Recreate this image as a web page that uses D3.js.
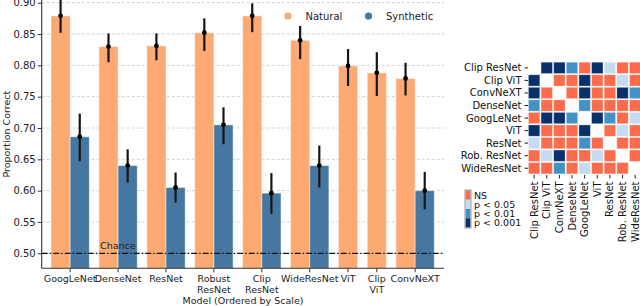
<!DOCTYPE html>
<html>
<head>
<meta charset="utf-8">
<script src="https://cdn.jsdelivr.net/npm/d3@7"></script>
<style>
  body { margin: 0; background: #fff; }
  svg { font-family: "DejaVu Sans", sans-serif; display: block; }
</style>
</head>
<body>
<svg id="chart" width="640" height="306"></svg>
<script>
// bar chart data
var models = ['GoogLeNet', 'DenseNet', 'ResNet', 'Robust\nResNet', 'Clip\nResNet', 'WideResNet', 'ViT', 'Clip\nViT', 'ConvNeXT'];
var natural = [0.879, 0.830, 0.831, 0.852, 0.879, 0.840, 0.799, 0.788, 0.779];
var naturalLo = [0.852, 0.805, 0.808, 0.823, 0.853, 0.810, 0.767, 0.751, 0.752];
var naturalHi = [0.906, 0.851, 0.851, 0.875, 0.899, 0.863, 0.826, 0.821, 0.804];
var synthetic = [0.686, 0.640, 0.605, 0.705, 0.596, 0.640, null, null, 0.600];
var syntheticLo = [0.647, 0.613, 0.581, 0.674, 0.563, 0.605, null, null, 0.570];
var syntheticHi = [0.723, 0.666, 0.629, 0.733, 0.628, 0.672, null, null, 0.630];
var yTicks = [0.50, 0.55, 0.60, 0.65, 0.70, 0.75, 0.80, 0.85, 0.90];
var chance = 0.5;

// significance matrix (0 = NS, 1 = p<0.05, 2 = p<0.01, 3 = p<0.001, -1 = diagonal)
var hmModels = ['Clip ResNet', 'Clip ViT', 'ConvNeXT', 'DenseNet', 'GoogLeNet', 'ViT', 'ResNet', 'Rob. ResNet', 'WideResNet'];
var pMatrix = [
  [-1, 3, 3, 2, 0, 3, 1, 0, 0],
  [3, -1, 0, 0, 3, 0, 0, 1, 0],
  [3, 0, -1, 0, 3, 0, 0, 3, 2],
  [2, 0, 0, -1, 2, 0, 0, 0, 0],
  [0, 3, 3, 2, -1, 3, 2, 0, 1],
  [3, 0, 0, 0, 3, -1, 0, 1, 0],
  [1, 0, 0, 0, 2, 0, -1, 0, 0],
  [0, 1, 3, 0, 0, 1, 0, -1, 0],
  [0, 0, 2, 0, 1, 0, 0, 0, -1]
];
var pLevels = ['NS', 'p < 0.05', 'p < 0.01', 'p < 0.001'];

var natColor = '#fdaa72', synColor = '#4677a0';
var pColors = ['#fc6b4b', '#c6dbef', '#4292c6', '#08306b'];

var svg = d3.select('#chart');

// ---------- bar chart ----------
var axLeft = 41.7, axRight = 444, axBottom = 268.3;
var yMin = 0.476;
var y = d3.scaleLinear().domain([0.5, 0.9]).range([253.3, 2.7]);

// lay bars out in "units": one bar = 1, gap between groups = 0.5
var gapU = 0.5;
var groups = [];
var pos = 0;
models.forEach(function(m, i) {
  var bars = [{series: 'Natural', v: natural[i], lo: naturalLo[i], hi: naturalHi[i], color: natColor}];
  if (synthetic[i] != null) {
    bars.push({series: 'Synthetic', v: synthetic[i], lo: syntheticLo[i], hi: syntheticHi[i], color: synColor});
  }
  bars.forEach(function(b, j) { b.start = pos + j; });
  groups.push({name: m, start: pos, n: bars.length, bars: bars});
  pos += bars.length + gapU;
});
var totalU = pos - gapU;
var x = d3.scaleLinear().domain([0, totalU]).range([51, 434.3]);

var allBars = [];
groups.forEach(function(g) { allBars = allBars.concat(g.bars); });

// grid
svg.append('g').selectAll('line').data(yTicks).enter().append('line')
  .attr('x1', axLeft).attr('x2', axRight)
  .attr('y1', function(d) { return y(d); }).attr('y2', function(d) { return y(d); })
  .attr('stroke', '#c4c4c4').attr('stroke-width', 0.8).attr('stroke-dasharray', '3,2');

// bars
svg.append('g').selectAll('rect').data(allBars).enter().append('rect')
  .attr('x', function(d) { return x(d.start); })
  .attr('width', function(d) { return x(d.start + 1) - x(d.start); })
  .attr('y', function(d) { return y(d.v); })
  .attr('height', function(d) { return y(yMin) - y(d.v); })
  .attr('fill', function(d) { return d.color; })
  .attr('stroke', '#fff').attr('stroke-opacity', 0.45).attr('stroke-width', 1);

// chance line
svg.append('line')
  .attr('x1', axLeft).attr('x2', axRight)
  .attr('y1', y(chance)).attr('y2', y(chance))
  .attr('stroke', '#111').attr('stroke-width', 1.2).attr('stroke-dasharray', '6,2,1.5,2');
svg.append('text').attr('x', 100).attr('y', y(chance) - 4)
  .attr('font-size', 9.5).attr('fill', '#222').text('Chance');

// error bars
var eb = svg.append('g').selectAll('g').data(allBars).enter().append('g');
eb.append('line')
  .attr('x1', function(d) { return x(d.start + 0.5); }).attr('x2', function(d) { return x(d.start + 0.5); })
  .attr('y1', function(d) { return y(d.lo); }).attr('y2', function(d) { return y(d.hi); })
  .attr('stroke', '#151515').attr('stroke-width', 2.2);
eb.append('circle')
  .attr('cx', function(d) { return x(d.start + 0.5); }).attr('cy', function(d) { return y(d.v); })
  .attr('r', 2.4).attr('fill', '#000');

// y axis
var yAxis = d3.axisLeft(y).tickValues(yTicks).tickFormat(d3.format('.2f')).tickSize(4).tickPadding(2);
var yg = svg.append('g').attr('transform', 'translate(' + axLeft + ',0)').call(yAxis);
yg.select('.domain').remove();
yg.selectAll('text').attr('font-size', 10).attr('fill', '#222').attr('font-family', 'DejaVu Sans');
yg.selectAll('line').attr('stroke', '#333');
svg.append('line').attr('x1', axLeft).attr('x2', axLeft).attr('y1', 0).attr('y2', axBottom)
  .attr('stroke', '#333').attr('stroke-width', 1.1);
svg.append('line').attr('x1', axLeft).attr('x2', axRight).attr('y1', axBottom).attr('y2', axBottom)
  .attr('stroke', '#333').attr('stroke-width', 1.1);

svg.append('text').attr('transform', 'translate(10,' + (axBottom / 2) + ') rotate(-90)')
  .attr('text-anchor', 'middle').attr('font-size', 9.5).attr('fill', '#222').text('Proportion Correct');

// x ticks
var xt = svg.append('g').selectAll('g').data(groups).enter().append('g')
  .attr('transform', function(g) { return 'translate(' + x(g.start + g.n / 2) + ',' + axBottom + ')'; });
xt.append('line').attr('y1', 0).attr('y2', 4).attr('stroke', '#333');
xt.append('text').attr('text-anchor', 'middle').attr('font-size', 9.5).attr('fill', '#222')
  .selectAll('tspan').data(function(g) { return g.name.split('\n'); }).enter().append('tspan')
  .attr('x', 0).attr('y', function(d, i) { return 14 + i * 10.5; }).text(function(d) { return d; });

svg.append('text').attr('x', 243).attr('y', 303.5).attr('text-anchor', 'middle')
  .attr('font-size', 9.5).attr('fill', '#222').text('Model (Ordered by Scale)');

// legend
var legend = [{name: 'Natural', color: natColor, cx: 288}, {name: 'Synthetic', color: synColor, cx: 368.5}];
var lg = svg.append('g').selectAll('g').data(legend).enter().append('g');
lg.append('circle').attr('cx', function(d) { return d.cx; }).attr('cy', 16).attr('r', 3.6)
  .attr('fill', function(d) { return d.color; });
lg.append('text').attr('x', function(d) { return d.cx + 17.5; }).attr('y', 19.6)
  .attr('font-size', 10).attr('fill', '#222').text(function(d) { return d.name; });

// ---------- heatmap ----------
var hx = d3.scaleBand().domain(hmModels).range([527.8, 641.5]).paddingInner(0.1).paddingOuter(0.05);
var hy = d3.scaleBand().domain(hmModels).range([61.6, 174.5]).paddingInner(0.1).paddingOuter(0.05);
var cells = [];
pMatrix.forEach(function(row, i) {
  row.forEach(function(v, j) { if (v >= 0) cells.push({r: hmModels[i], c: hmModels[j], v: v}); });
});
svg.append('g').selectAll('rect').data(cells).enter().append('rect')
  .attr('x', function(d) { return hx(d.c); }).attr('y', function(d) { return hy(d.r); })
  .attr('width', hx.bandwidth()).attr('height', hy.bandwidth())
  .attr('fill', function(d) { return pColors[d.v]; })
  .attr('stroke', '#fff').attr('stroke-opacity', 0.35).attr('stroke-width', 0.8);

var ry = svg.append('g').selectAll('g').data(hmModels).enter().append('g')
  .attr('transform', function(d) { return 'translate(524.5,' + (hy(d) + hy.bandwidth() / 2) + ')'; });
ry.append('line').attr('x1', 0).attr('x2', 3.5).attr('stroke', '#222');
ry.append('text').attr('x', -3).attr('dy', '0.35em').attr('text-anchor', 'end')
  .attr('font-size', 10).attr('fill', '#111').text(function(d) { return d; });

var cx = svg.append('g').selectAll('g').data(hmModels).enter().append('g')
  .attr('transform', function(d) { return 'translate(' + (hx(d) + hx.bandwidth() / 2) + ',175)'; });
cx.append('line').attr('y1', 0).attr('y2', 3.5).attr('stroke', '#222');
cx.append('text').attr('transform', 'translate(0,6.5) rotate(-90)').attr('dy', '0.35em')
  .attr('text-anchor', 'end').attr('font-size', 10).attr('fill', '#111').text(function(d) { return d; });

// heatmap legend
var ly = d3.scaleBand().domain(pLevels).range([190.5, 227.5]);
svg.append('g').selectAll('rect').data(pLevels).enter().append('rect')
  .attr('x', 465.5).attr('y', function(d) { return ly(d); })
  .attr('width', 5).attr('height', ly.bandwidth())
  .attr('fill', function(d, i) { return pColors[i]; });
svg.append('rect').attr('x', 465).attr('y', 190).attr('width', 6).attr('height', 38)
  .attr('fill', 'none').attr('stroke', '#999').attr('stroke-width', 1);
svg.append('g').selectAll('text').data(pLevels).enter().append('text')
  .attr('x', 474).attr('y', function(d) { return ly(d) + ly.bandwidth() / 2; }).attr('dy', '0.36em')
  .attr('font-size', 9.5).attr('fill', '#111').text(function(d) { return d; });
</script>
</body>
</html>
